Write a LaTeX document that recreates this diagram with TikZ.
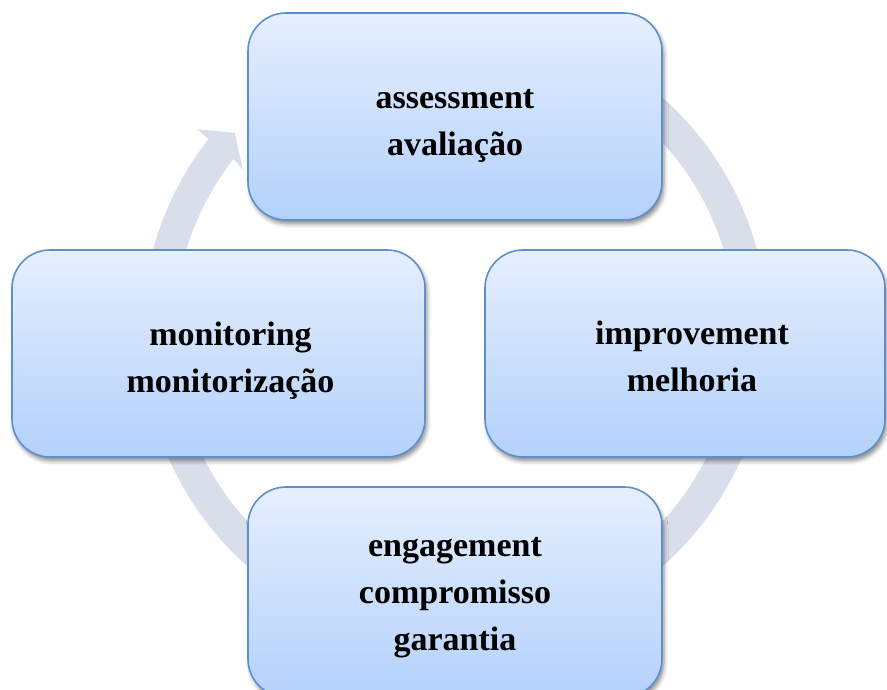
\documentclass[tikz,border=0pt]{standalone}
\usepackage{fontspec}
\setmainfont{Liberation Serif}
\usetikzlibrary{shadows.blur}
\definecolor{ringgray}{HTML}{D9DEEB}
\definecolor{boxedge}{HTML}{5C8FCB}
\definecolor{boxtop}{HTML}{E6EFFD}
\definecolor{boxbottom}{HTML}{B3D1FB}
\tikzset{
  stage/.style={
    rectangle, rounded corners=38pt, draw=boxedge, line width=1.6pt,
    top color=boxtop, bottom color=boxbottom,
    blur shadow={shadow xshift=2pt, shadow yshift=-4pt,
                 shadow blur radius=4pt, shadow opacity=45},
    inner sep=0pt
  },
  stagetext/.style={
    align=center, inner sep=0pt,
    font=\fontsize{34}{47}\selectfont\bfseries
  },
  cyclering/.style={fill=ringgray}
}
\begin{document}
\begin{tikzpicture}[x=1pt,y=1pt]
  \useasboundingbox (0,0) rectangle (887,689);
  \clip (0,0) rectangle (887,689);
  % circular arrow behind the stages
  \begin{scope}[shift={(455,357)}]
    \fill[cyclering] (80:313) arc[start angle=80, end angle=-218, radius=313]
      -- (141.8:328) -- (137.9:297) -- (142.6:267) -- (-218:281)
      arc[start angle=-218, end angle=80, radius=281] -- cycle;
  \end{scope}
  % the four stages
  \node[stage, minimum width=414pt, minimum height=207pt] (assess) at (455,572.5) {};
  \node[stage, minimum width=400pt, minimum height=207pt] (improve) at (685,335.5) {};
  \node[stage, minimum width=413pt, minimum height=207pt] (monitor) at (218.5,335.5) {};
  \node[stage, minimum width=414pt, minimum height=210pt] (engage) at (455,97) {};
  % stage labels
  \node[stagetext] (assess-t) at ([yshift=-9pt]assess.center)
    {assessment\\avaliação};
  \node[stagetext] (improve-t) at ([xshift=7pt,yshift=-3pt]improve.center)
    {improvement\\melhoria};
  \node[stagetext] (monitor-t) at ([xshift=12pt,yshift=-7pt]monitor.center)
    {monitoring\\monitorização};
  \node[stagetext] (engage-t) at ([yshift=-6pt]engage.center)
    {engagement\\compromisso\\garantia};
\end{tikzpicture}
\end{document}
